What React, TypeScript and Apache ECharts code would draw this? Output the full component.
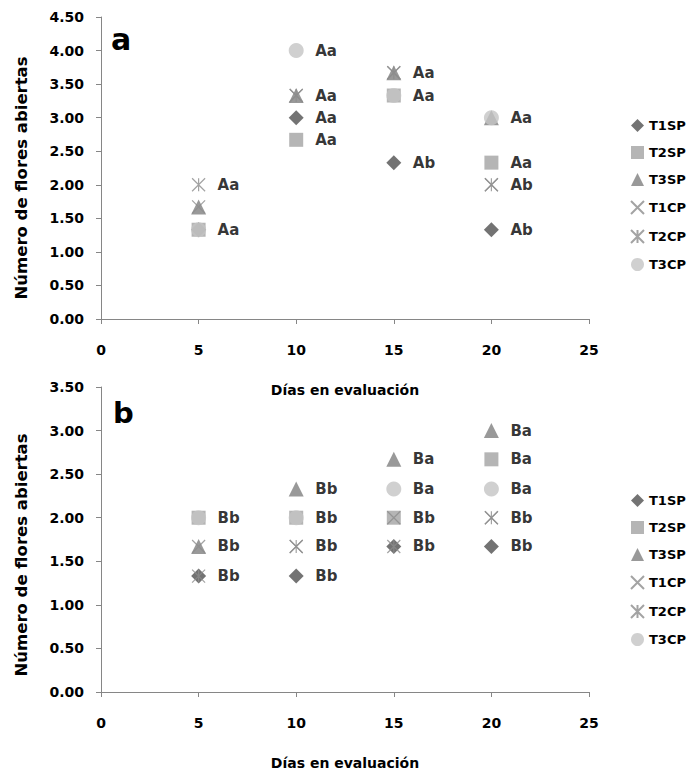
import React, { useEffect, useRef } from "react";
import * as echarts from "echarts";

const days = [5, 10, 15, 20];
const seriesNames = ["T1SP", "T2SP", "T3SP", "T1CP", "T2CP", "T3CP"];

// Panel a
const aT1SP = [1.33, 3.0, 2.33, 1.33];
const aT2SP = [1.33, 2.67, 3.33, 2.33];
const aT3SP = [1.67, 3.33, 3.67, 3.0];
const aT1CP = [1.67, 3.33, 3.67, 2.0];
const aT2CP = [2.0, 3.33, 3.67, 2.0];
const aT3CP = [1.33, 4.0, 3.33, 3.0];

// Panel b
const bT1SP = [1.33, 1.33, 1.67, 1.67];
const bT2SP = [2.0, 2.0, 2.0, 2.67];
const bT3SP = [1.67, 2.33, 2.67, 3.0];
const bT1CP = [1.67, 1.67, 2.0, 2.0];
const bT2CP = [1.33, 1.67, 1.67, 2.0];
const bT3CP = [2.0, 2.0, 2.33, 2.33];

// Significance letters: [day, value, text]
const labelsA: [number, number, string][] = [
  [5, 2.0, "Aa"], [5, 1.33, "Aa"],
  [10, 4.0, "Aa"], [10, 3.33, "Aa"], [10, 3.0, "Aa"], [10, 2.67, "Aa"],
  [15, 3.67, "Aa"], [15, 3.33, "Aa"], [15, 2.33, "Ab"],
  [20, 3.0, "Aa"], [20, 2.33, "Aa"], [20, 2.0, "Ab"], [20, 1.33, "Ab"],
];
const labelsB: [number, number, string][] = [
  [5, 2.0, "Bb"], [5, 1.67, "Bb"], [5, 1.33, "Bb"],
  [10, 2.33, "Bb"], [10, 2.0, "Bb"], [10, 1.67, "Bb"], [10, 1.33, "Bb"],
  [15, 2.67, "Ba"], [15, 2.33, "Ba"], [15, 2.0, "Bb"], [15, 1.67, "Bb"],
  [20, 3.0, "Ba"], [20, 2.67, "Ba"], [20, 2.33, "Ba"], [20, 2.0, "Bb"], [20, 1.67, "Bb"],
];

const xTicks = { min: 0, max: 25, interval: 5 };
const yMaxA = 4.5;
const yMaxB = 3.5;
const yTitle = "Número de flores abiertas";
const xTitle = "Días en evaluación";

const FONT = "DejaVu Sans";
const AXIS_COLOR = "#868686";

const styles: Record<string, any> = {
  T1SP: { symbol: "diamond", symbolSize: 15, itemStyle: { color: "#505050" } },
  T2SP: { symbol: "rect", symbolSize: 14, itemStyle: { color: "#a2a2a2" } },
  T3SP: { symbol: "triangle", symbolSize: 15, itemStyle: { color: "#7f7f7f" } },
  T1CP: {
    symbol: "path://M0,0L10,10M10,0L0,10",
    symbolSize: 13,
    itemStyle: { color: "rgba(0,0,0,0)", borderColor: "#8c8c8c", borderWidth: 1.2 },
  },
  T2CP: {
    symbol: "path://M0,0L10,10M10,0L0,10M5,0L5,10",
    symbolSize: 13,
    itemStyle: { color: "rgba(0,0,0,0)", borderColor: "#8c8c8c", borderWidth: 1.2 },
  },
  T3CP: { symbol: "circle", symbolSize: 15, itemStyle: { color: "#c4c4c4" } },
};

export default function App() {
  const ref = useRef<HTMLDivElement>(null);

  useEffect(() => {
    if (!ref.current) return;
    const chart = echarts.init(ref.current, null, { renderer: "svg" });

    const valsA = [aT1SP, aT2SP, aT3SP, aT1CP, aT2CP, aT3CP];
    const valsB = [bT1SP, bT2SP, bT3SP, bT1CP, bT2CP, bT3CP];

    const makeSeries = (vals: number[][], idx: number) =>
      seriesNames.map((name, i) => ({
        type: "scatter",
        name,
        xAxisIndex: idx,
        yAxisIndex: idx,
        symbol: styles[name].symbol,
        symbolSize: styles[name].symbolSize,
        itemStyle: styles[name].itemStyle,
        emphasis: { disabled: true },
        z: 2 + i,
        data: days.map((d, j) => [d, vals[i][j]]),
      }));

    const labelSeries = (labels: [number, number, string][], idx: number) => ({
      type: "scatter",
      name: "labels" + idx,
      xAxisIndex: idx,
      yAxisIndex: idx,
      symbolSize: 0,
      z: 20,
      silent: true,
      label: {
        show: true,
        position: "right",
        distance: 19,
        formatter: (p: any) => p.value[2],
        fontFamily: FONT,
        fontWeight: "bold",
        fontSize: 15,
        color: "#000",
      },
      data: labels.map((l) => [l[0], l[1], l[2]]),
    });

    const xAxis = (idx: number) => ({
      type: "value",
      gridIndex: idx,
      ...xTicks,
      name: xTitle,
      nameLocation: "middle",
      nameGap: 64,
      nameTextStyle: { fontFamily: FONT, fontWeight: "bold", fontSize: 14, color: "#000" },
      axisLine: { show: true, onZero: false, lineStyle: { color: AXIS_COLOR } },
      axisTick: { show: true, length: 5, lineStyle: { color: AXIS_COLOR } },
      axisLabel: { margin: 24, fontFamily: FONT, fontWeight: "bold", fontSize: 14, color: "#000" },
      splitLine: { show: false },
    });

    const yAxis = (idx: number, max: number) => ({
      type: "value",
      gridIndex: idx,
      min: 0,
      max,
      interval: 0.5,
      axisLine: { show: true, lineStyle: { color: AXIS_COLOR } },
      axisTick: { show: true, length: 5, lineStyle: { color: AXIS_COLOR } },
      axisLabel: {
        margin: 17,
        fontFamily: FONT,
        fontWeight: "bold",
        fontSize: 14,
        color: "#000",
        formatter: (v: number) => v.toFixed(2),
      },
      splitLine: { show: false },
    });

    const legend = (top: number) => ({
      orient: "vertical",
      left: 625,
      top,
      itemWidth: 13,
      itemHeight: 13,
      itemGap: 14,
      data: seriesNames,
      selectedMode: false,
      textStyle: { fontFamily: FONT, fontWeight: "bold", fontSize: 13, color: "#000" },
    });

    const yTitleText = (cy: number) => ({
      type: "text",
      x: 21,
      y: cy,
      rotation: Math.PI / 2,
      style: {
        text: yTitle,
        fontFamily: FONT,
        fontWeight: "bold",
        fontSize: 16.5,
        fill: "#000",
        align: "center",
        verticalAlign: "middle",
      },
    });

    chart.setOption({
      animation: false,
      backgroundColor: "#fff",
      grid: [
        { left: 101, top: 17, width: 488, height: 302 },
        { left: 101, top: 387, width: 488, height: 305 },
      ],
      xAxis: [xAxis(0), xAxis(1)],
      yAxis: [yAxis(0, yMaxA), yAxis(1, yMaxB)],
      legend: [legend(114), legend(489)],
      graphic: [
        {
          type: "text",
          left: 111,
          top: 24,
          style: { text: "a", fontFamily: FONT, fontWeight: "bold", fontSize: 30, fill: "#000" },
        },
        {
          type: "text",
          left: 113,
          top: 398,
          style: { text: "b", fontFamily: FONT, fontWeight: "bold", fontSize: 29, fill: "#000" },
        },
        yTitleText(178),
        yTitleText(555),
      ],
      series: [
        ...makeSeries(valsA, 0),
        labelSeries(labelsA, 0),
        ...makeSeries(valsB, 1),
        labelSeries(labelsB, 1),
      ],
    });

    return () => chart.dispose();
  }, []);

  return (
    <div
      ref={ref}
      style={{ position: "fixed", left: 0, top: 0, width: 691, height: 774, background: "#fff" }}
    />
  );
}
